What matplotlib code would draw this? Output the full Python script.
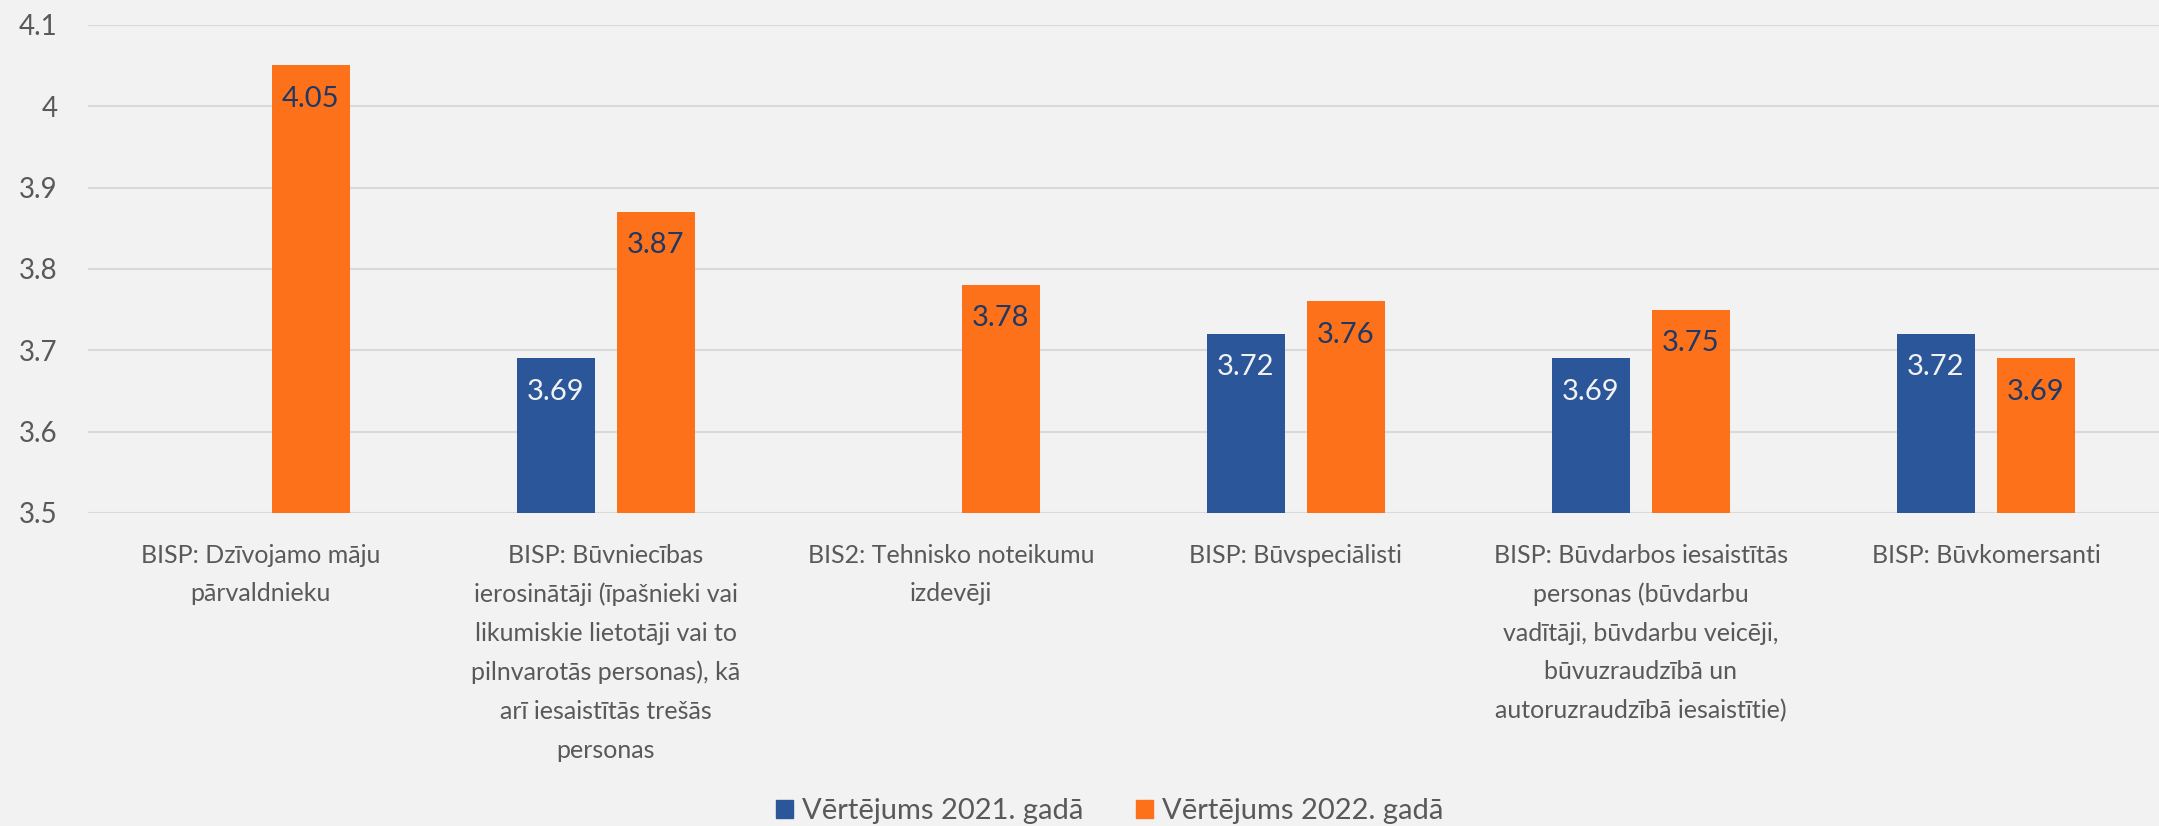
import numpy as np
import matplotlib.pyplot as plt
from matplotlib.patches import Patch

# dati
kategorijas = [
    "BISP: Dzīvojamo māju\npārvaldnieku",
    "BISP: Būvniecības\nierosinātāji (īpašnieki vai\nlikumiskie lietotāji vai to\npilnvarotās personas), kā\narī iesaistītās trešās\npersonas",
    "BIS2: Tehnisko noteikumu\nizdevēji",
    "BISP: Būvspeciālisti",
    "BISP: Būvdarbos iesaistītās\npersonas (būvdarbu\nvadītāji, būvdarbu veicēji,\nbūvuzraudzībā un\nautoruzraudzībā iesaistītie)",
    "BISP: Būvkomersanti",
]
vert_2021 = [np.nan, 3.69, np.nan, 3.72, 3.69, 3.72]
vert_2022 = [4.05, 3.87, 3.78, 3.76, 3.75, 3.69]
y_ticks = [3.5, 3.6, 3.7, 3.8, 3.9, 4.0, 4.1]
y_tick_labels = ["3.5", "3.6", "3.7", "3.8", "3.9", "4", "4.1"]

zils = "#2B579A"
oranzs = "#FD711B"
fons = "#F2F2F2"

plt.rcParams['font.family'] = ['Lato', 'DejaVu Sans']

fig = plt.figure(figsize=(21.59, 8.26), dpi=100, facecolor=fons)
ax = fig.add_axes([0.0408, 0.379, 0.959, 0.591], facecolor=fons)

x = np.arange(len(kategorijas))
w = 0.226
off = 0.145
b1 = ax.bar(x - off, vert_2021, w, color=zils, zorder=3)
b2 = ax.bar(x + off, vert_2022, w, color=oranzs, zorder=3)

for xi, v in zip(x, vert_2021):
    if not np.isnan(v):
        ax.annotate(f"{v:.2f}", (xi - off, v), xytext=(0, -24), textcoords="offset points",
                    ha="center", va="center", fontsize=21, color="#F2F2F2", zorder=4)
for xi, v in zip(x, vert_2022):
    ax.annotate(f"{v:.2f}", (xi + off, v), xytext=(0, -24), textcoords="offset points",
                ha="center", va="center", fontsize=21, color="#1F3864", zorder=4)

ax.set_ylim(3.5, 4.1)
ax.set_xlim(-0.5, len(kategorijas) - 0.5)
ax.set_yticks(y_ticks)
ax.set_yticklabels(y_tick_labels)
ax.grid(axis="y", color="#D9D9D9", linewidth=1.5, zorder=0)
ax.set_xticks(x)
ax.set_xticklabels(kategorijas, linespacing=1.82)
ax.tick_params(axis="y", length=0, pad=22, labelsize=20, labelcolor="#595959")
ax.tick_params(axis="x", length=0, pad=22, labelsize=18, labelcolor="#595959")
for s in ax.spines.values():
    s.set_visible(False)

handles = [Patch(color=zils, label="Vērtējums 2021. gadā"),
           Patch(color=oranzs, label="Vērtējums 2022. gadā")]
leg = fig.legend(handles=handles, loc="center", bbox_to_anchor=(0.514, 0.018), ncol=2,
                 frameon=False, fontsize=21, handlelength=0.6, handleheight=0.6,
                 handletextpad=0.3, columnspacing=1.8, labelcolor="#595959")

fig.savefig("out.png", dpi=100, facecolor=fons)
